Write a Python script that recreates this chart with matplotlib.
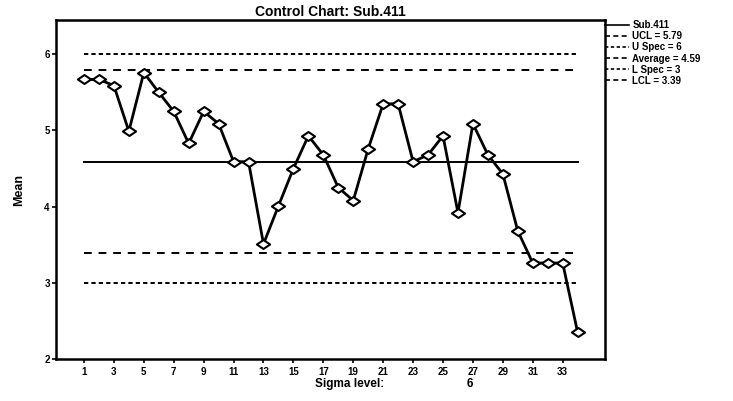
import matplotlib
matplotlib.use("Agg")
import matplotlib.pyplot as plt
from matplotlib.lines import Line2D
from matplotlib.path import Path

plt.rcParams['font.family'] = ['Liberation Sans', 'DejaVu Sans']

samples = list(range(1, 35))
means = [5.67, 5.67, 5.59, 4.99, 5.76, 5.50, 5.25, 4.83, 5.25, 5.09,
         4.59, 4.59, 3.51, 4.01, 4.50, 4.93, 4.68, 4.25, 4.08, 4.76,
         5.35, 5.35, 4.59, 4.68, 4.93, 3.92, 5.09, 4.68, 4.43, 3.68,
         3.26, 3.26, 3.26, 2.35]
ucl = 5.79
uspec = 6
average = 4.59
lspec = 3
lcl = 3.39
xticks = list(range(1, 34, 2))
yticks = [2, 3, 4, 5, 6]

wide_diamond = Path([(-1, 0), (0, 0.68), (1, 0), (0, -0.68), (-1, 0)],
                    [Path.MOVETO, Path.LINETO, Path.LINETO, Path.LINETO, Path.CLOSEPOLY])

fig = plt.figure(figsize=(7.33, 4.01), dpi=100)
ax = fig.add_axes([0.0764, 0.1047, 0.749, 0.8453])

x0, x1 = samples[0], samples[-1]
ax.plot([x0, x1], [ucl, ucl], color='black', lw=1.4, ls=(0, (4, 3.5)))
ax.plot([x0, x1], [uspec, uspec], color='black', lw=1.4, ls=(0, (2.2, 1.6)))
ax.plot([x0, x1], [average, average], color='black', lw=1.4, ls='-')
ax.plot([x0, x1], [lspec, lspec], color='black', lw=1.4, ls=(0, (2.2, 1.6)))
ax.plot([x0, x1], [lcl, lcl], color='black', lw=1.4, ls=(0, (4, 3.5)))
ax.plot(samples, means, color='black', lw=2.0, marker=wide_diamond, ms=9.5,
        mfc='white', mec='black', mew=1.5, zorder=5)

ax.set_xlim(-0.87, 35.83)
ax.set_ylim(2, 6.45)
ax.set_xticks(xticks)
ax.set_xticklabels([str(t) for t in xticks], fontsize=7, fontweight='bold')
ax.set_yticks(yticks)
ax.set_yticklabels([str(t) for t in yticks], fontsize=7, fontweight='bold')
ax.tick_params(axis='both', direction='out', length=3, width=1.2, pad=1.5)
ax.tick_params(axis='x', pad=2.5)
for s in ax.spines.values():
    s.set_linewidth(1.8)

ax.set_ylabel('Mean', fontsize=9, fontweight='bold', labelpad=14)
ax.set_title('Control Chart: Sub.411', fontsize=10, fontweight='bold', pad=3)

fig.text(350 / 733, 1 - 384 / 401, 'Sigma level:', fontsize=8.5, fontweight='bold',
         ha='center', va='center')
fig.text(470 / 733, 1 - 384 / 401, '6', fontsize=8.5, fontweight='bold',
         ha='center', va='center')

handles = [Line2D([], [], color='black', lw=1.2, ls='-'),
           Line2D([], [], color='black', lw=1.2, ls=(0, (3, 2))),
           Line2D([], [], color='black', lw=1.2, ls=(0, (2, 1.5))),
           Line2D([], [], color='black', lw=1.2, ls=(0, (3, 2))),
           Line2D([], [], color='black', lw=1.2, ls=(0, (2, 1.5))),
           Line2D([], [], color='black', lw=1.2, ls=(0, (3, 2)))]
labels = ['Sub.411', 'UCL = 5.79', 'U Spec = 6', 'Average = 4.59',
          'L Spec = 3', 'LCL = 3.39']
leg = fig.legend(handles, labels, loc='upper left',
                 bbox_to_anchor=(605 / 733, 1 - 20 / 401),
                 frameon=False, fontsize=7, handlelength=2.5,
                 handletextpad=0.3, labelspacing=0.12, borderaxespad=0,
                 borderpad=0)
for t in leg.get_texts():
    t.set_fontweight('bold')

fig.savefig('out.png', dpi=100)
